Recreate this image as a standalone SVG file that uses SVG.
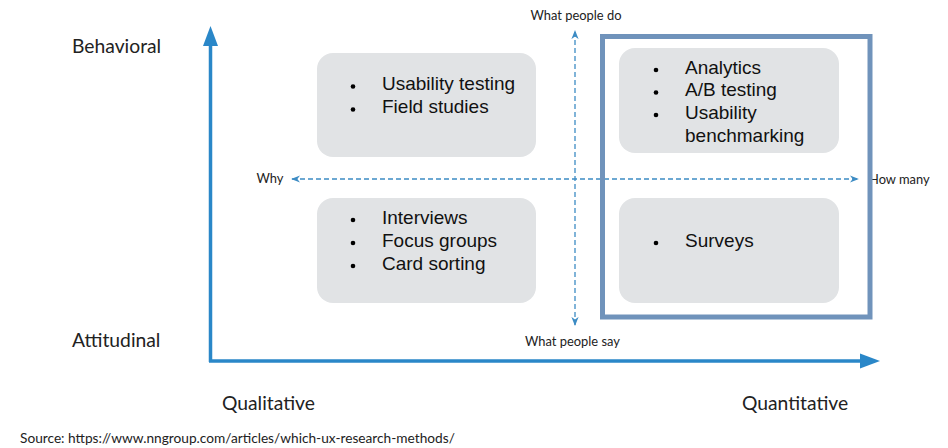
<svg xmlns="http://www.w3.org/2000/svg" width="948" height="448" viewBox="0 0 948 448">
<style>
.lab{font-family:Lato,"Open Sans",sans-serif;fill:#222}
.ax{font-size:19.3px}
.sm{font-size:12.9px}
.box{fill:#e1e3e5}
.it{font-family:"Liberation Sans",Arial,sans-serif;font-size:19px;fill:#111}
.dash{stroke:#3d8cc4;stroke-width:1.3;stroke-dasharray:5,3;fill:none}
</style>
<defs>
<marker id="chev" viewBox="0 0 10 10" refX="9" refY="5" markerWidth="9" markerHeight="9" markerUnits="userSpaceOnUse" orient="auto-start-reverse">
<path d="M0,1 L10,5 L0,9 L3,5 Z" fill="#3d8cc4"/>
</marker>
</defs>
<rect width="948" height="448" fill="#fff"/>
<g id="connectors">
<line class="dash" x1="575" y1="325" x2="575" y2="31" marker-start="url(#chev)" marker-end="url(#chev)"/>
<line class="dash" x1="292" y1="179" x2="858" y2="179" marker-start="url(#chev)" marker-end="url(#chev)"/>
<line x1="210.5" y1="362" x2="210.5" y2="44" stroke="#2a87c8" stroke-width="3.5"/>
<polygon points="203,46 210.5,26 218,46" fill="#2a87c8"/>
<line x1="209" y1="361" x2="862" y2="361" stroke="#2a87c8" stroke-width="3.5"/>
<polygon points="860,353.5 880,361 860,368.5" fill="#2a87c8"/>
</g>
<text class="lab sm" x="530.5" y="20">What people do</text>
<text class="lab sm" x="525" y="346">What people say</text>
<text class="lab sm" x="256.5" y="183">Why</text>
<text class="lab sm" x="869" y="184">How many</text>
<text class="lab ax" x="72" y="53">Behavioral</text>
<text class="lab ax" x="72" y="347">Attitudinal</text>
<text class="lab ax" x="222" y="410">Qualitative</text>
<text class="lab ax" x="742" y="410">Quantitative</text>
<text class="lab" style="font-size:13.7px" x="20" y="443">Source: https://www.nngroup.com/articles/which-ux-research-methods/</text>
<rect id="quant-frame" x="602.5" y="36.5" width="267.5" height="280.5" fill="none" stroke="#7093bb" stroke-width="5"/>
<g id="box-behavioral-qual">
<rect class="box" x="317" y="53" width="219" height="104" rx="16"/>
<circle cx="353" cy="86.5" r="2.3"/><circle cx="353" cy="109.5" r="2.3"/>
<text class="it" x="382" y="90">Usability testing</text>
<text class="it" x="382" y="113">Field studies</text>
</g>
<g id="box-attitudinal-qual">
<rect class="box" x="317" y="198" width="219" height="105" rx="16"/>
<circle cx="353" cy="220" r="2.3"/><circle cx="353" cy="243" r="2.3"/><circle cx="353" cy="266" r="2.3"/>
<text class="it" x="382" y="223.5">Interviews</text>
<text class="it" x="382" y="246.5">Focus groups</text>
<text class="it" x="382" y="269.5">Card sorting</text>
</g>
<g id="box-behavioral-quant">
<rect class="box" x="619" y="48" width="220" height="105" rx="16"/>
<circle cx="656" cy="70" r="2.3"/><circle cx="656" cy="92.5" r="2.3"/><circle cx="656" cy="115" r="2.3"/>
<text class="it" x="685" y="73.5">Analytics</text>
<text class="it" x="685" y="96">A/B testing</text>
<text class="it" x="685" y="118.5">Usability</text>
<text class="it" x="685" y="141.5">benchmarking</text>
</g>
<g id="box-attitudinal-quant">
<rect class="box" x="619" y="198" width="220" height="105" rx="16"/>
<circle cx="656" cy="243" r="2.3"/>
<text class="it" x="685" y="246.5">Surveys</text>
</g>
</svg>
